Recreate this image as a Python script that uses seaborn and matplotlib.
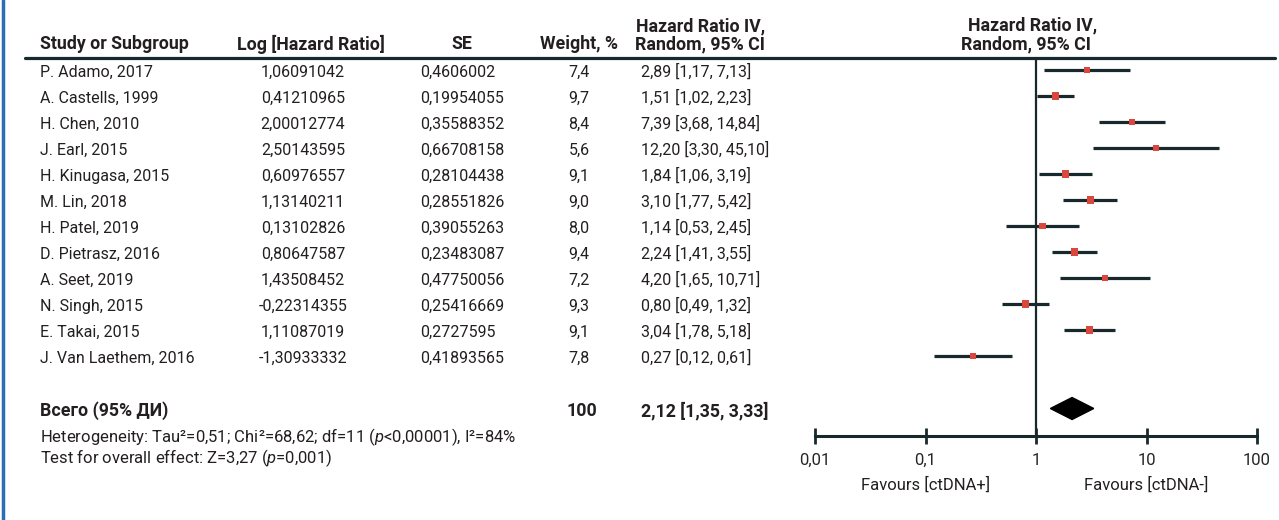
import matplotlib
matplotlib.use('Agg')
import matplotlib.pyplot as plt
import matplotlib.transforms as mtransforms
from matplotlib.lines import Line2D
from matplotlib.ticker import FixedLocator, FixedFormatter, NullLocator
import numpy as np
import pandas as pd
import seaborn as sns

# data
studies = ['P. Adamo, 2017', 'A. Castells, 1999', 'H. Chen, 2010', 'J. Earl, 2015',
           'H. Kinugasa, 2015', 'M. Lin, 2018', 'H. Patel, 2019', 'D. Pietrasz, 2016',
           'A. Seet, 2019', 'N. Singh, 2015', 'E. Takai, 2015', 'J. Van Laethem, 2016']
log_hr = [1.06091042, 0.41210965, 2.00012774, 2.50143595, 0.60976557, 1.13140211,
          0.13102826, 0.80647587, 1.43508452, -0.22314355, 1.11087019, -1.30933332]
se = [0.4606002, 0.19954055, 0.35588352, 0.66708158, 0.28104438, 0.28551826,
      0.39055263, 0.23483087, 0.47750056, 0.25416669, 0.2727595, 0.41893565]
weight = [7.4, 9.7, 8.4, 5.6, 9.1, 9.0, 8.0, 9.4, 7.2, 9.3, 9.1, 7.8]
hr = [2.89, 1.51, 7.39, 12.20, 1.84, 3.10, 1.14, 2.24, 4.20, 0.80, 3.04, 0.27]
ci_low = [1.17, 1.02, 3.68, 3.30, 1.06, 1.77, 0.53, 1.41, 1.65, 0.49, 1.78, 0.12]
ci_high = [7.13, 2.23, 14.84, 45.10, 3.19, 5.42, 2.45, 3.55, 10.71, 1.32, 5.18, 0.61]

total_weight = 100
total_hr = 2.12
total_low = 1.35
total_high = 3.33

tick_values = [0.01, 0.1, 1, 10, 100]
tick_labels = ['0,01', '0,1', '1', '10', '100']

dark = '#17292d'
red = '#d9473f'
blue = '#2c6db5'


def comma(v):
    return str(v).replace('.', ',')


def hr_text(h, lo, hi):
    return f'{h:.2f} [{lo:.2f}, {hi:.2f}]'.replace('.', ',')


sns.set_theme(style='white')
plt.rcParams['font.family'] = ['Roboto', 'DejaVu Sans']
plt.rcParams['mathtext.fontset'] = 'custom'
plt.rcParams['mathtext.rm'] = 'Roboto'
plt.rcParams['mathtext.it'] = 'Roboto:italic'
plt.rcParams['text.color'] = '#231f20'

W, H = 1279, 520
fig = plt.figure(figsize=(W / 100, H / 100), dpi=100)
ax = fig.add_axes([815 / W, 0, (1257 - 815) / W, 1])

row0, step = 70, 26


def row(px):
    return (px - row0) / step


df = pd.DataFrame({'study': studies, 'hr': hr, 'lo': ci_low, 'hi': ci_high,
                   'weight': weight, 'y': np.arange(len(studies))})

# confidence intervals and point estimates
ax.hlines(df['y'], df['lo'], df['hi'], color=dark, lw=2.3, zorder=2)
sns.scatterplot(data=df, x='hr', y='y', size='weight', sizes=(16, 28), marker='s',
                color=red, edgecolor='none', legend=False, ax=ax, zorder=3)

# pooled diamond
ty = row(408.5)
h = 11 / step
ax.fill([total_low, total_hr, total_high, total_hr], [ty, ty - h, ty, ty + h],
        color='black', zorder=3)

axis_y = row(436)
ax.plot([1, 1], [row(58), axis_y], color=dark, lw=1.6, zorder=1)

ax.set_xscale('log')
ax.set_xlim(0.01, 100)
ax.set_ylim(row(H), row(0))
ax.set_xlabel('')
ax.set_ylabel('')
ax.set_yticks([])
for s in ['top', 'left', 'right']:
    ax.spines[s].set_visible(False)
ax.spines['bottom'].set_position(('data', axis_y))
ax.spines['bottom'].set_color(dark)
ax.spines['bottom'].set_linewidth(2.2)
ax.xaxis.set_major_locator(FixedLocator(tick_values))
ax.xaxis.set_major_formatter(FixedFormatter(tick_labels))
ax.xaxis.set_minor_locator(NullLocator())
ax.tick_params(axis='x', direction='inout', length=12, width=2, color=dark,
               labelsize=12, pad=6, bottom=True)
ax.patch.set_alpha(0)

fs = 11.5
bfs = 12.8
ax.text(0.1, row(485), 'Favours [ctDNA+]', ha='center', va='center', fontsize=12)
ax.text(10, row(485), 'Favours [ctDNA-]', ha='center', va='center', fontsize=12)

# table part
trans = mtransforms.blended_transform_factory(fig.transFigure, ax.transData)


def put(xpx, y, s, ha='left', bold=False, size=None, **kw):
    if size is None:
        size = bfs if bold else fs
    ax.text(xpx / W, y, s, transform=trans, ha=ha, va='center', fontsize=size,
            fontweight='bold' if bold else 'normal', clip_on=False, **kw)


hy = row(44)
put(40, hy, 'Study or Subgroup', bold=True)
put(311, hy, 'Log [Hazard Ratio]', ha='center', bold=True)
put(462, hy, 'SE', ha='center', bold=True)
put(618, hy, 'Weight, %', ha='right', bold=True)
put(765, row(26), 'Hazard Ratio IV,', ha='right', bold=True)
put(765, hy, 'Random, 95% CI', ha='right', bold=True)
put(1033, row(25), 'Hazard Ratio IV,', ha='center', bold=True)
put(1026, hy, 'Random, 95% CI', ha='center', bold=True)

ax.plot([25 / W, 1275 / W], [row(58), row(58)], transform=trans, clip_on=False,
        color=dark, lw=2.3)

for i in range(len(studies)):
    y = i + 2 / step
    put(40, y, studies[i])
    put(303, y, comma(log_hr[i]), ha='center')
    put(420, y, comma(se[i]))
    put(579, y, comma(weight[i]), ha='center')
    put(641, y, hr_text(hr[i], ci_low[i], ci_high[i]))

put(40, row(411), 'Всего (95% ДИ)', bold=True)
put(582, row(411), str(total_weight), ha='center', bold=True)
put(641, row(411), hr_text(total_hr, total_low, total_high), bold=True)

put(40, row(448),
    'Heterogeneity: Tau²=0,51; Chi²=68,62; df=11 ($\\mathit{p}$<0,00001), I²=84%\n'
    'Test for overall effect: Z=3,27 ($\\mathit{p}$=0,001)',
    size=12, linespacing=0.95)

fig.add_artist(Line2D([3 / W, 3 / W], [0, 1], transform=fig.transFigure,
                      color=blue, lw=2.5))

fig.savefig('out.png', dpi=100, facecolor='white')
